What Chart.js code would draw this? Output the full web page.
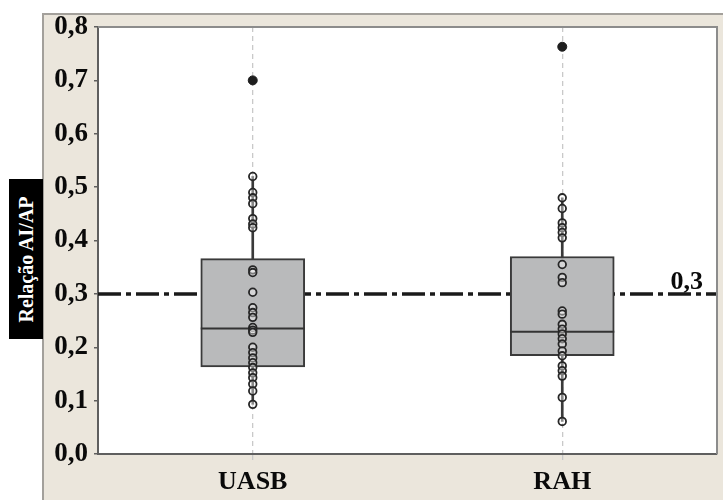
<!DOCTYPE html>
<html>
<head>
<meta charset="utf-8">
<title>Relação AI/AP</title>
<script src="https://cdn.jsdelivr.net/npm/chart.js@4/dist/chart.umd.min.js"></script>
<style>
  html, body { margin: 0; padding: 0; background: #ffffff; }
  #wrap { position: relative; width: 723px; height: 500px; overflow: hidden; }
  #frame {
    position: absolute; left: 42px; top: 13px; right: 0; bottom: 0;
    background: #ebe6dc; border-left: 2px solid #a3a09b; border-top: 2px solid #a3a09b;
  }
  #chart { position: absolute; left: 0; top: 0; }
  #ytitle {
    position: absolute; left: 9px; top: 179px; width: 34px; height: 160px;
    background: #000; color: #fff; display: flex; align-items: center; justify-content: center;
  }
  #ytitle span {
    display: block; transform: rotate(-90deg); white-space: nowrap;
    font: bold 20px "Liberation Serif", "DejaVu Serif", serif;
  }
</style>
</head>
<body>
<div id="wrap">
  <div id="frame"></div>
  <canvas id="chart" width="723" height="500"></canvas>
  <div id="ytitle"><span>Relação AI/AP</span></div>
</div>
<script>
// Reactors compared
const categories = ['UASB', 'RAH'];

// Box-plot summary per reactor
const boxLow = [0.163, 0.184];      // first quartile
const boxHigh = [0.366, 0.370];     // third quartile
const medians = [0.235, 0.229];
const whiskerLow = [0.093, 0.061];
const whiskerHigh = [0.520, 0.480];
const outliers = [0.700, 0.763];

// Individual AI/AP observations
const uasbValues = [0.520, 0.490, 0.480, 0.469, 0.441, 0.431, 0.424, 0.345, 0.340, 0.303,
  0.274, 0.265, 0.256, 0.237, 0.232, 0.228, 0.200, 0.190, 0.180, 0.171, 0.162, 0.152,
  0.143, 0.131, 0.118, 0.093];
const rahValues = [0.480, 0.460, 0.433, 0.424, 0.415, 0.405, 0.355, 0.331, 0.321, 0.268,
  0.262, 0.243, 0.234, 0.225, 0.216, 0.206, 0.193, 0.184, 0.165, 0.156, 0.146, 0.106, 0.061];

// Reference limit for the AI/AP ratio
const referenceValue = 0.3;
const referenceLabel = '0,3';

// Y axis tick labels (0,0 … 0,8)
const yTickLabels = ['0,0', '0,1', '0,2', '0,3', '0,4', '0,5', '0,6', '0,7', '0,8'];

const serif = '"Liberation Serif", "DejaVu Serif", serif';
const boxThickness = 104;

const pointData = []
  .concat(uasbValues.map(v => ({ x: categories[0], y: v })))
  .concat(rahValues.map(v => ({ x: categories[1], y: v })));
const outlierData = outliers.map((v, i) => ({ x: categories[i], y: v }));

// White plotting area with a grey top/right frame and the dash-dot reference line
const plotDecor = {
  id: 'plotDecor',
  beforeDraw(chart) {
    const { ctx, chartArea: a } = chart;
    ctx.save();
    ctx.fillStyle = '#ffffff';
    ctx.fillRect(a.left, a.top, a.right - a.left, a.bottom - a.top);
    ctx.restore();
  },
  beforeDatasetsDraw(chart) {
    const { ctx, chartArea: a, scales } = chart;
    const y = scales.y.getPixelForValue(referenceValue);
    ctx.save();
    ctx.strokeStyle = '#1a1a1a';
    ctx.lineWidth = 3.5;
    ctx.setLineDash([23, 5, 5, 5]);
    ctx.beginPath();
    ctx.moveTo(a.left, y);
    ctx.lineTo(a.right, y);
    ctx.stroke();
    ctx.restore();
  },
  afterDatasetDraw(chart, args) {
    if (args.index !== 1) return;
    // median line across each box
    const { ctx, scales } = chart;
    ctx.save();
    ctx.strokeStyle = '#333333';
    ctx.lineWidth = 2;
    medians.forEach((m, i) => {
      const x = scales.x.getPixelForValue(i);
      const y = scales.y.getPixelForValue(m);
      ctx.beginPath();
      ctx.moveTo(x - boxThickness / 2, y);
      ctx.lineTo(x + boxThickness / 2, y);
      ctx.stroke();
    });
    ctx.restore();
  },
  afterDraw(chart) {
    const { ctx, chartArea: a, scales } = chart;
    ctx.save();
    ctx.strokeStyle = '#8c8c8c';
    ctx.lineWidth = 2;
    ctx.beginPath();
    ctx.moveTo(a.left, a.top);
    ctx.lineTo(a.right, a.top);
    ctx.lineTo(a.right, a.bottom);
    ctx.stroke();
    const y = scales.y.getPixelForValue(referenceValue);
    ctx.fillStyle = '#0a0a0a';
    ctx.font = 'bold 26px ' + serif;
    ctx.textAlign = 'right';
    ctx.textBaseline = 'alphabetic';
    ctx.fillText(referenceLabel, a.right - 14, y - 5);
    ctx.restore();
  }
};

new Chart(document.getElementById('chart'), {
  type: 'bar',
  data: {
    labels: categories,
    datasets: [
      {
        type: 'scatter',
        label: 'Outliers',
        data: outlierData,
        pointRadius: 4.5,
        pointHoverRadius: 4.5,
        backgroundColor: '#1e1e1e',
        borderColor: '#1e1e1e',
        borderWidth: 1,
        order: 0
      },
      {
        type: 'bar',
        label: 'Box',
        data: categories.map((c, i) => [boxLow[i], boxHigh[i]]),
        barThickness: boxThickness,
        backgroundColor: '#b9babb',
        borderColor: '#3a3a3a',
        borderWidth: 2,
        borderSkipped: false,
        grouped: false,
        order: 3
      },
      {
        type: 'scatter',
        label: 'Observations',
        data: pointData,
        pointRadius: 3.8,
        pointHoverRadius: 3.8,
        backgroundColor: 'rgba(255,255,255,0.4)',
        borderColor: '#262626',
        borderWidth: 1.8,
        order: 1
      },
      {
        type: 'bar',
        label: 'Whiskers',
        data: categories.map((c, i) => [whiskerLow[i], whiskerHigh[i]]),
        barThickness: 2,
        backgroundColor: '#3a3a3a',
        borderWidth: 0,
        grouped: false,
        order: 4
      }
    ]
  },
  options: {
    responsive: false,
    animation: false,
    layout: { padding: { top: 27, right: 6, left: 0, bottom: 0 } },
    plugins: {
      legend: { display: false },
      tooltip: { enabled: false }
    },
    scales: {
      x: {
        type: 'category',
        offset: true,
        grid: {
          display: true,
          offset: false,
          drawOnChartArea: true,
          drawTicks: true,
          tickLength: 6,
          color: '#c9c9c9',
          lineWidth: 1.3
        },
        border: { display: true, color: '#5f5f5f', width: 2, dash: [5, 4] },
        ticks: {
          color: '#0a0a0a',
          padding: 7,
          font: { family: serif, size: 26, weight: 'bold' }
        },
        afterFit(scale) { scale.height = 46; }
      },
      y: {
        min: 0,
        max: 0.8,
        ticks: {
          stepSize: 0.1,
          color: '#0a0a0a',
          padding: 6,
          font: { family: serif, size: 27, weight: 'bold' },
          callback: (v, i) => yTickLabels[i]
        },
        grid: {
          drawOnChartArea: false,
          drawTicks: true,
          tickLength: 4,
          color: '#5f5f5f',
          lineWidth: 1.5
        },
        border: { display: true, color: '#5f5f5f', width: 2 },
        afterFit(scale) { scale.width = 98; }
      }
    }
  },
  plugins: [plotDecor]
});
</script>
</body>
</html>
